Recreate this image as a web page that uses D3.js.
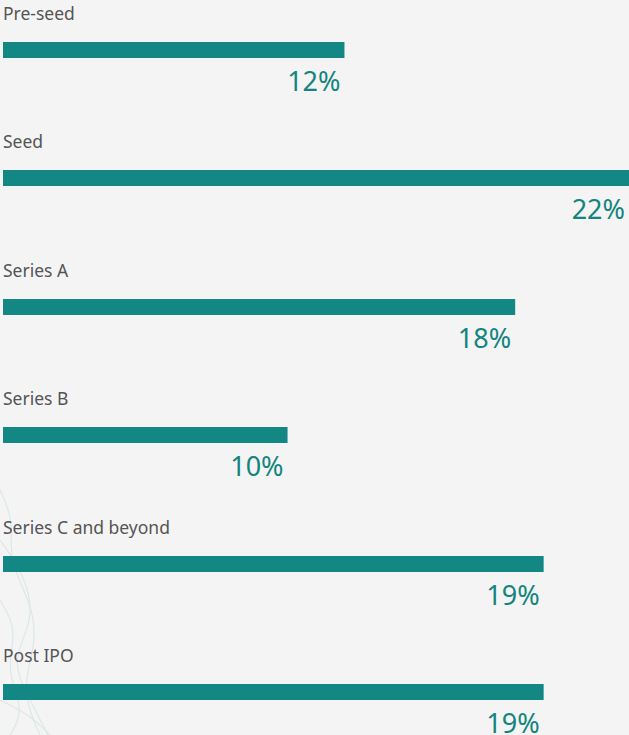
<!DOCTYPE html>
<html>
<head>
<meta charset="utf-8">
<script src="https://cdn.jsdelivr.net/npm/d3@7"></script>
<style>
  html, body { margin: 0; padding: 0; background: #f4f4f4; }
  svg { display: block; }
  .cat { font-family: "Noto Sans", sans-serif; font-size: 17.5px; fill: #555; }
  .pct { font-family: "Noto Sans", sans-serif; font-size: 27px; fill: #13847f; }
</style>
</head>
<body>
<svg></svg>
<script>
var w = 629, h = 735;

var stages = ["Pre-seed", "Seed", "Series A", "Series B", "Series C and beyond", "Post IPO"];
var shares = [12, 22, 18, 10, 19, 19];
var pctLabels = ["12%", "22%", "18%", "10%", "19%", "19%"];

var svg = d3.select("svg")
  .attr("width", w)
  .attr("height", h);

svg.append("rect")
  .attr("width", w)
  .attr("height", h)
  .attr("fill", "#f4f4f4");

// faint decorative squiggles bottom-left
var deco = svg.append("g")
  .attr("fill", "none")
  .attr("stroke", "#dbe8e6")
  .attr("stroke-width", 1.2);
var squiggle = d3.line().curve(d3.curveBasis);
[
  [[0, 490], [14, 520], [8, 560], [30, 600], [38, 640], [20, 690], [40, 735]],
  [[0, 540], [25, 575], [35, 620], [10, 660], [30, 700], [48, 735]],
  [[0, 600], [18, 630], [5, 670], [25, 710], [10, 735]],
  [[0, 700], [30, 715], [50, 735]]
].forEach(function(pts) {
  deco.append("path").attr("d", squiggle(pts));
});

var x = d3.scaleLinear()
  .domain([0, 22])
  .range([3, 629]);

var y = d3.scalePoint()
  .domain(stages)
  .range([42, 684]);

var barH = 16;

var rows = svg.selectAll("g.row")
  .data(stages)
  .enter()
  .append("g")
  .attr("class", "row")
  .attr("transform", function(d) { return "translate(0," + Math.round(y(d)) + ")"; });

rows.append("text")
  .attr("class", "cat")
  .attr("x", 3)
  .attr("y", -22)
  .text(function(d) { return d; });

rows.append("rect")
  .attr("x", x(0))
  .attr("y", 0)
  .attr("height", barH)
  .attr("width", function(d, i) { return x(shares[i]) - x(0); })
  .attr("fill", "#128783");

rows.append("text")
  .attr("class", "pct")
  .attr("text-anchor", "end")
  .attr("x", function(d, i) { return x(shares[i]) - 4; })
  .attr("y", 49)
  .text(function(d, i) { return pctLabels[i]; });
</script>
</body>
</html>
